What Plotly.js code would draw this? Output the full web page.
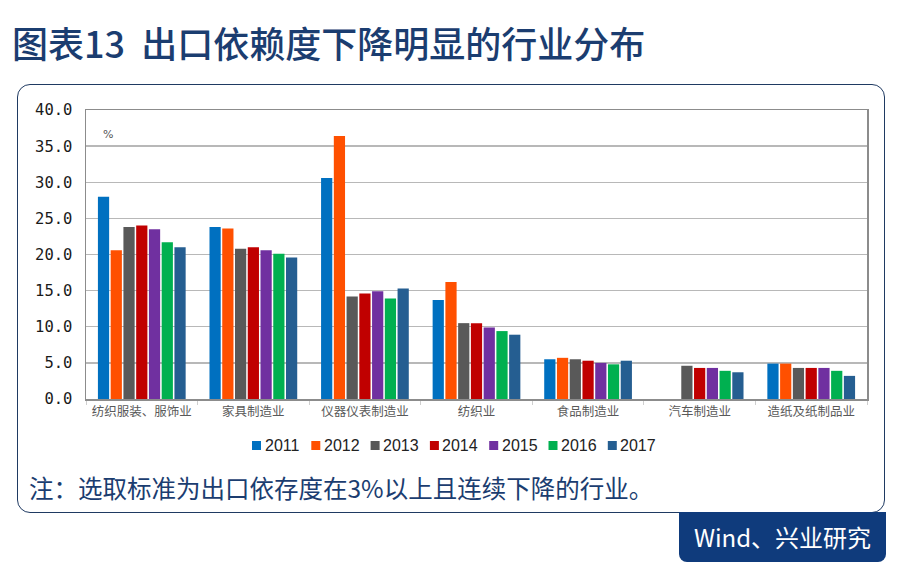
<!DOCTYPE html>
<html>
<head>
<meta charset="utf-8">
<script src="https://cdn.plot.ly/plotly-3.0.1.min.js"></script>
<style>
  html, body { margin:0; padding:0; background:#ffffff; }
  #wrap { position:relative; width:905px; height:572px; overflow:hidden; }
  #frame { position:absolute; left:17px; top:84px; width:866px; height:427px;
           border:1.5px solid #1f3a62; border-radius:13px; background:#fff; z-index:0; }
  #chart { position:absolute; left:0; top:0; width:905px; height:572px; z-index:1; }
  #src { position:absolute; left:679px; top:512px; width:207px; height:50px; z-index:2;
         background:#0f3b7c; border-radius:0 0 8px 8px; color:#fff;
         font-family:"Noto Sans CJK SC","Noto Sans",sans-serif; font-size:24px;
         line-height:50px; text-align:center; }
</style>
</head>
<body>
<div id="wrap">
  <div id="frame"></div>
  <div id="chart"></div>
  <div id="src">Wind、兴业研究</div>
</div>
<script>
// ---- data ----
const categories = ['纺织服装、服饰业', '家具制造业', '仪器仪表制造业', '纺织业', '食品制造业', '汽车制造业', '造纸及纸制品业'];
const years = ['2011', '2012', '2013', '2014', '2015', '2016', '2017'];
const colors = ['#0070c0', '#ff5000', '#595959', '#c00000', '#7030a0', '#00b050', '#255e91'];
const v2011 = [28.0, 23.8, 30.6, 13.7, 5.5, null, 4.9];
const v2012 = [20.6, 23.6, 36.4, 16.2, 5.7, null, 4.9];
const v2013 = [23.8, 20.8, 14.2, 10.5, 5.5, 4.6, 4.3];
const v2014 = [24.0, 21.0, 14.6, 10.5, 5.3, 4.3, 4.3];
const v2015 = [23.5, 20.6, 14.9, 9.9, 5.0, 4.3, 4.3];
const v2016 = [21.7, 20.1, 13.9, 9.4, 4.8, 3.9, 3.9];
const v2017 = [21.0, 19.6, 15.3, 8.9, 5.3, 3.7, 3.2];
const yTicks = [0, 5, 10, 15, 20, 25, 30, 35, 40];
const unitLabel = '%';
const titleText = '图表13  出口依赖度下降明显的行业分布';
const noteText = '注：选取标准为出口依存度在3%以上且连续下降的行业。';

const series = [v2011, v2012, v2013, v2014, v2015, v2016, v2017];

// ---- layout geometry (pixels) ----
const W = 905, H = 572;
const plotL = 86, plotR = 867, plotT = 110, plotB = 399;
const pw = plotR - plotL, ph = plotB - plotT;
const px2x = p => (p - plotL) / pw;
const px2y = p => (plotB - p) / ph;

const traces = series.map((vals, i) => ({
  type: 'bar',
  name: years[i],
  x: categories,
  y: vals,
  marker: { color: colors[i], line: { width: 0 } },
  hoverinfo: 'x+y+name'
}));

const shapes = [];
const annotations = [];

// custom compact legend
const legStart = 252, legStep = 59.3, legY = 445.5, sq = 9;
years.forEach((yr, i) => {
  const x0 = legStart + i * legStep;
  shapes.push({ type: 'rect', xref: 'paper', yref: 'paper',
    x0: px2x(x0), x1: px2x(x0 + sq), y0: px2y(legY + sq / 2), y1: px2y(legY - sq / 2),
    fillcolor: colors[i], line: { width: 0 } });
  annotations.push({ xref: 'paper', yref: 'paper', x: px2x(x0 + sq + 1.5), y: px2y(legY),
    xanchor: 'left', yanchor: 'middle', showarrow: false, text: yr,
    font: { family: 'Liberation Sans, Arial, sans-serif', size: 16, color: '#222' } });
});

annotations.push({ xref: 'paper', yref: 'paper', x: px2x(101), y: px2y(134),
  xanchor: 'left', yanchor: 'middle', showarrow: false, text: unitLabel,
  font: { family: 'DejaVu Sans, sans-serif', size: 11, color: '#555' } });

annotations.push({ xref: 'paper', yref: 'paper', x: px2x(27), y: px2y(487),
  xanchor: 'left', yanchor: 'middle', showarrow: false, text: noteText,
  font: { family: 'Noto Sans CJK SC, sans-serif', size: 24.5, color: '#1b3d70' } });

const layout = {
  width: W, height: H,
  margin: { l: plotL, r: W - plotR, t: plotT, b: H - plotB, pad: 0 },
  paper_bgcolor: 'rgba(0,0,0,0)',
  plot_bgcolor: '#ffffff',
  showlegend: false,
  barmode: 'group',
  bargap: 0.2,
  bargroupgap: 0.12,
  title: {
    text: titleText, xref: 'container', yref: 'container',
    x: 12 / W, xanchor: 'left', y: 1 - 45 / H, yanchor: 'middle',
    font: { family: 'Noto Sans CJK SC, sans-serif', size: 36, color: '#1b3d70', weight: 500 }
  },
  xaxis: {
    type: 'category',
    showline: true, mirror: true, linecolor: '#8c8c8c', linewidth: 1.5,
    ticks: 'outside', tickson: 'boundaries', ticklen: 4, tickcolor: '#cfcfcf',
    showgrid: false, zeroline: false,
    tickfont: { family: 'Noto Sans CJK SC, sans-serif', size: 12.5, color: '#595959' },
    fixedrange: true
  },
  yaxis: {
    range: [0, 40], tickvals: yTicks, tickformat: '.1f',
    showline: true, mirror: true, linecolor: '#8c8c8c', linewidth: 1.5,
    showgrid: true, gridcolor: '#b8b8b8', gridwidth: 1.3,
    zeroline: false, ticks: '', ticklabelstandoff: 9,
    tickfont: { family: 'DejaVu Sans Mono, monospace', size: 15.5, color: '#1a1a1a' },
    fixedrange: true
  },
  shapes: shapes,
  annotations: annotations
};

Plotly.newPlot('chart', traces, layout, { displayModeBar: false, staticPlot: true });
</script>
</body>
</html>
